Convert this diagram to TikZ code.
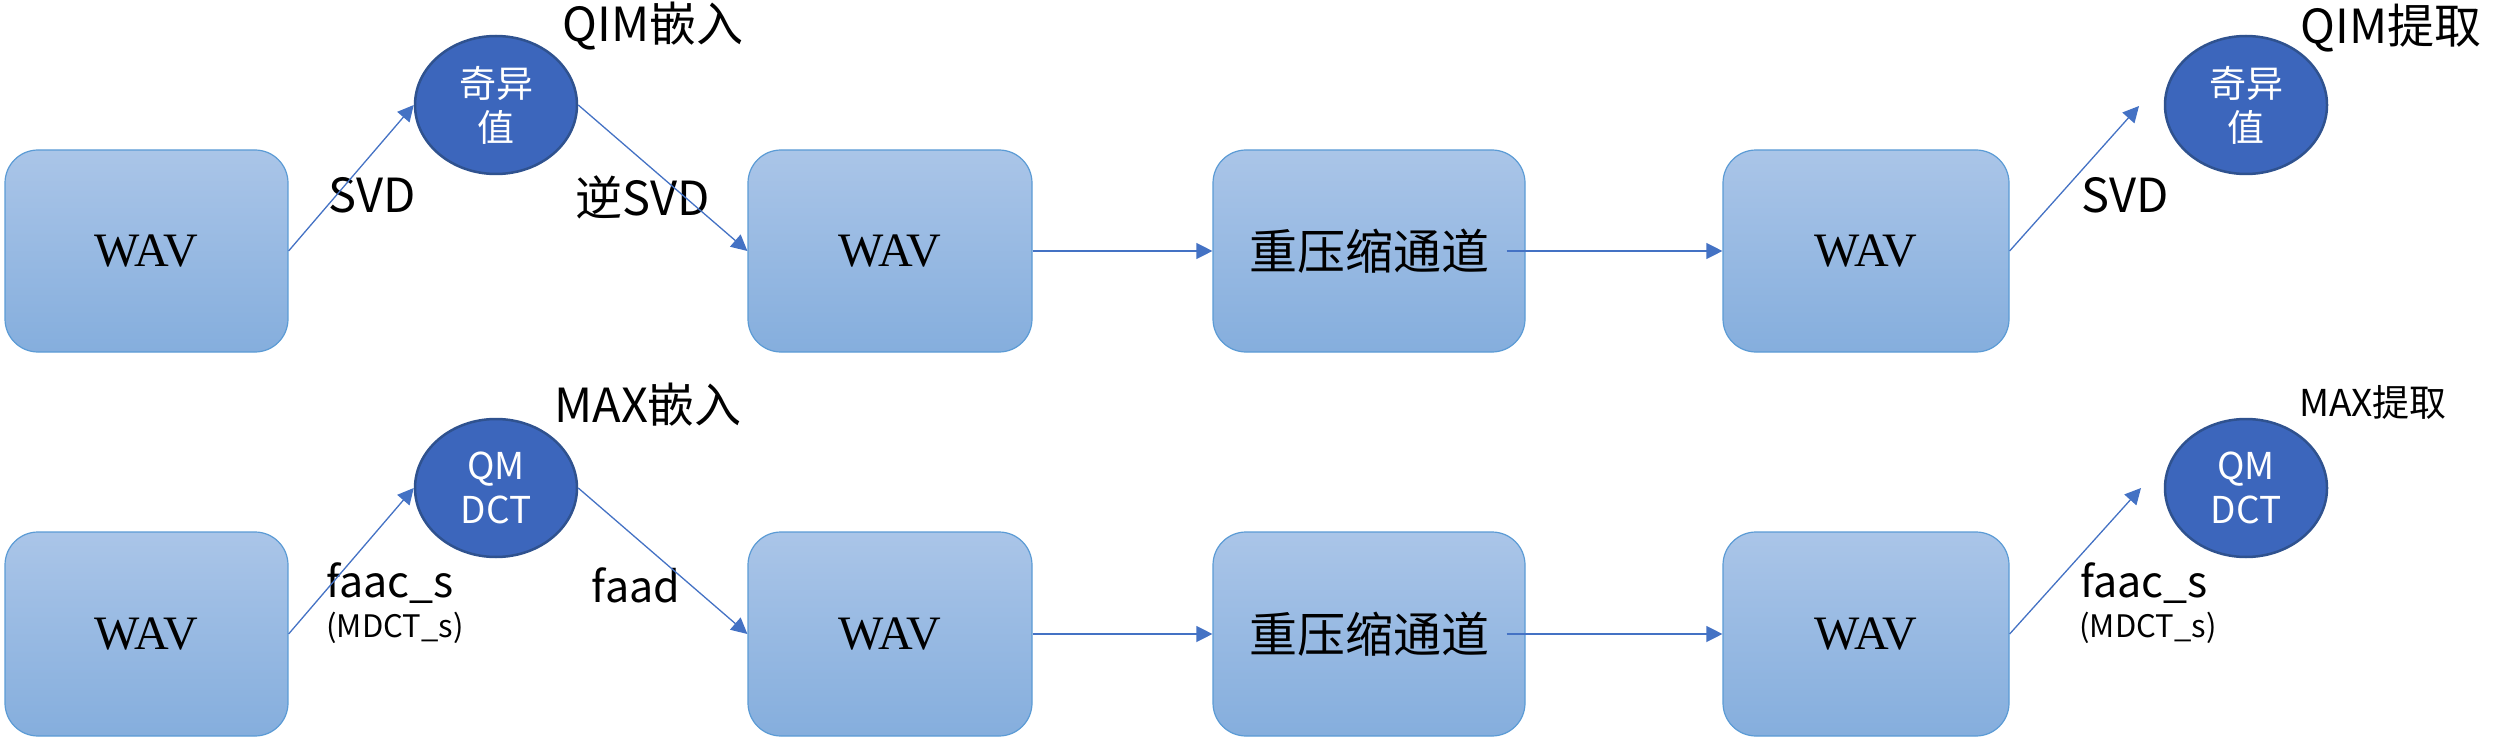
\documentclass[tikz,border=0pt]{standalone}
\usepackage{fontspec}
\setmainfont{Liberation Serif}
\newfontfamily\cjk{Noto Sans CJK SC}
\usetikzlibrary{shapes.geometric,arrows.meta}
\definecolor{arrowblue}{HTML}{4472C4}
\definecolor{boxtop}{HTML}{AAC5E8}
\definecolor{boxbot}{HTML}{85AEDD}
\definecolor{boxline}{HTML}{5B9BD5}
\definecolor{ellfill}{HTML}{3C66BC}
\definecolor{ellline}{HTML}{2F528F}
\begin{document}
\begin{tikzpicture}[x=1pt,y=-1pt,
 wavbox/.style={draw=boxline, line width=1.2pt, rounded corners=33pt, top color=boxtop, bottom color=boxbot, inner sep=0pt, minimum height=202pt},
 ell/.style={ellipse, draw=ellline, line width=2.5pt, fill=ellfill, minimum width=162pt, minimum height=138pt, inner sep=0pt, text=white, align=center, font=\cjk\fontsize{37}{44}\selectfont},
 lbl/.style={inner sep=0pt, font=\cjk\fontsize{47}{56}\selectfont},
 midlbl/.style={inner sep=0pt, font=\cjk\fontsize{43}{52}\selectfont},
 smalllbl/.style={inner sep=0pt, font=\cjk\fontsize{31}{37}\selectfont},
 wavtext/.style={font=\fontsize{48}{56}\selectfont},
 chantext/.style={font=\cjk\fontsize{48}{56}\selectfont},
 conn/.style={draw=arrowblue, line width=1.3pt, -{Triangle[length=16pt,width=16pt]}}]
\useasboundingbox (0,0) rectangle (2495,746);
% top row
\node[wavbox, wavtext, minimum width=283pt] (b1) at (146.5,251) {WAV};
\node[wavbox, wavtext, minimum width=284pt] (b2) at (890,251) {WAV};
\node[wavbox, chantext, minimum width=312pt] (b3) at (1369,251) {重压缩通道};
\node[wavbox, wavtext, minimum width=286pt] (b4) at (1866,251) {WAV};
\node[ell] (c1) at (496,105) {奇异\\值};
\node[ell] (c2) at (2246,105) {奇异\\值};
\coordinate (e1) at (2139,106);
\node[lbl] (t1) at (653,26) {QIM嵌入};
\node[lbl] (t2) at (2391,28) {QIM提取};
\node[lbl] (l1) at (372,195) {SVD};
\node[lbl] (l2) at (643,197) {逆SVD};
\node[lbl] (l3) at (2125,195) {SVD};
\draw[conn] (b1.east) -- (c1.west);
\draw[conn] (c1.east) -- (b2.west);
\draw[conn] (b2.east) -- (b3.west);
\draw[conn] ([xshift=-19pt]b3.east) -- (b4.west);
\draw[conn] (b4.east) -- (e1);
% bottom row
\node[wavbox, wavtext, minimum width=283pt, minimum height=204pt] (d1) at (146.5,634) {WAV};
\node[wavbox, wavtext, minimum width=284pt, minimum height=204pt] (d2) at (890,634) {WAV};
\node[wavbox, chantext, minimum width=312pt, minimum height=204pt] (d3) at (1369,634) {重压缩通道};
\node[wavbox, wavtext, minimum width=286pt, minimum height=204pt] (d4) at (1866,634) {WAV};
\node[ell] (c3) at (496,488) {QM\\DCT};
\node[ell] (c4) at (2246,488) {QM\\DCT};
\coordinate (e2) at (2141,488);
\node[lbl] (t3) at (648,405) {MAX嵌入};
\node[lbl, font=\cjk\fontsize{37}{44}\selectfont] (t4) at (2373,402) {MAX提取};
\node[midlbl] (l4) at (390,583) {faac\_s};
\node[smalllbl] (l5) at (395,628) {(MDCT\_s)};
\node[midlbl] (l6) at (636,585) {faad};
\node[midlbl] (l7) at (2144,583) {faac\_s};
\node[smalllbl] (l8) at (2148,628) {(MDCT\_s)};
\draw[conn] (d1.east) -- (c3.west);
\draw[conn] (c3.east) -- (d2.west);
\draw[conn] (d2.east) -- (d3.west);
\draw[conn] ([xshift=-19pt]d3.east) -- (d4.west);
\draw[conn] (d4.east) -- (e2);
\end{tikzpicture}
\end{document}
